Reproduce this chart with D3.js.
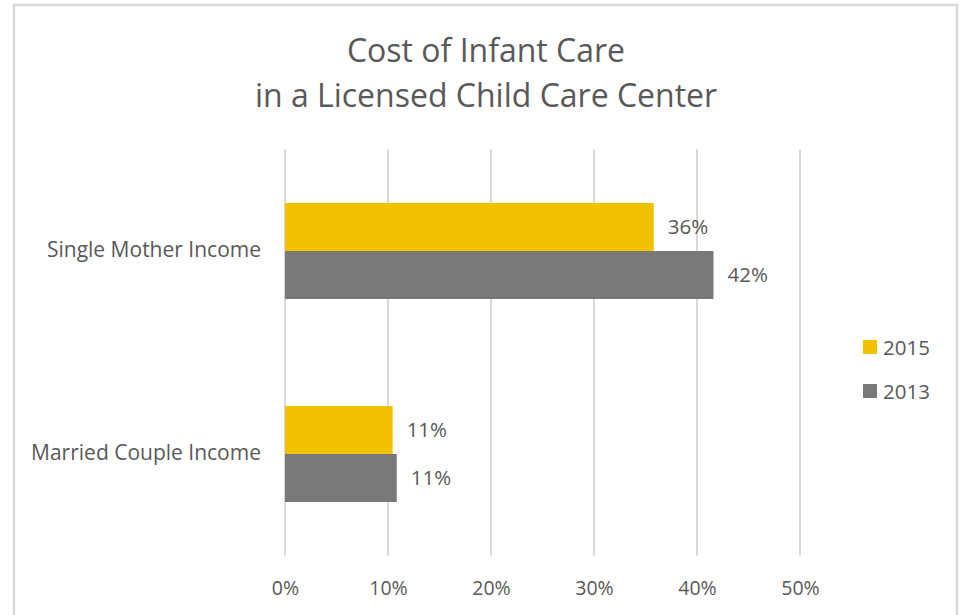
<!DOCTYPE html>
<html><head><meta charset="utf-8">
<script src="https://cdn.jsdelivr.net/npm/d3@7"></script>
<style>body{margin:0;background:#fff}svg{display:block}text{font-family:"Open Sans",sans-serif;fill:#595959}</style>
</head><body><svg id="c" width="965" height="615"></svg>
<script>
const categories = ["Single Mother Income", "Married Couple Income"];
const seriesNames = ["2015", "2013"];
const values2015 = [0.358, 0.1045];
const values2013 = [0.416, 0.1085];
const labels2015 = ["36%", "11%"];
const labels2013 = ["42%", "11%"];
const tickValues = [0, 0.1, 0.2, 0.3, 0.4, 0.5];
const colors = ["#f2c200", "#797979"];
const titleLines = ["Cost of Infant Care", "in a Licensed Child Care Center"];

const svg = d3.select("#c");
svg.append("rect").attr("x",14).attr("y",5).attr("width",943).attr("height",620)
  .attr("fill","#fff").attr("stroke","#d9d9d9").attr("stroke-width",2.5);

const x = d3.scaleLinear().domain([0,0.5]).range([285,800]);
const y = d3.scaleBand().domain(categories).range([149.5,555.5]).paddingInner(0.527).paddingOuter(0.2635);
const ys = d3.scaleBand().domain(seriesNames).range([0,y.bandwidth()]);

svg.append("g").selectAll("line").data(tickValues).join("line")
  .attr("x1",d=>x(d)).attr("x2",d=>x(d)).attr("y1",149.5).attr("y2",555.5)
  .attr("stroke","#d9d9d9").attr("stroke-width",2);

const xAxis = d3.axisBottom(x).tickValues(tickValues).tickFormat(d3.format(".0%")).tickSize(0).tickPadding(0);
const gx = svg.append("g").attr("transform","translate(0,595)").call(xAxis);
gx.select(".domain").remove();
gx.selectAll("text").attr("dy",0).style("font-size","19.5px").attr("fill","#595959").style("font-family","'Open Sans',sans-serif");

const series = [values2015, values2013];
const lbls = [labels2015, labels2013];
series.forEach((vals,si)=>{
  svg.append("g").selectAll("rect").data(categories).join("rect")
    .attr("x",x(0)).attr("y",(c)=>y(c)+ys(seriesNames[si]))
    .attr("width",(c,i)=>x(vals[i])-x(0)).attr("height",ys.bandwidth())
    .attr("fill",colors[si]);
  svg.append("g").selectAll("text").data(categories).join("text")
    .attr("x",(c,i)=>x(vals[i])+14).attr("y",(c)=>y(c)+ys(seriesNames[si])+ys.bandwidth()/2+7)
    .style("font-size","20.5px").text((c,i)=>lbls[si][i]);
});

const yAxis = d3.axisLeft(y).tickSize(0).tickPadding(0);
const gy = svg.append("g").attr("transform","translate(261,0)").call(yAxis);
gy.select(".domain").remove();
gy.selectAll("text").attr("dy",0).attr("y",6).style("font-size","21px").attr("fill","#595959").style("font-family","'Open Sans',sans-serif");

svg.append("g").selectAll("text").data(titleLines).join("text")
  .attr("x",486).attr("y",(d,i)=>61.5+i*45).attr("text-anchor","middle")
  .style("font-size","32px").text(d=>d);

const lg = svg.append("g").selectAll("g").data(seriesNames).join("g")
  .attr("transform",(d,i)=>`translate(863,${347+i*44})`);
lg.append("rect").attr("x",0).attr("y",-7).attr("width",14).attr("height",14).attr("fill",(d,i)=>colors[i]);
lg.append("text").attr("x",20).attr("y",8).style("font-size","20.5px").text(d=>d);
</script></body></html>
